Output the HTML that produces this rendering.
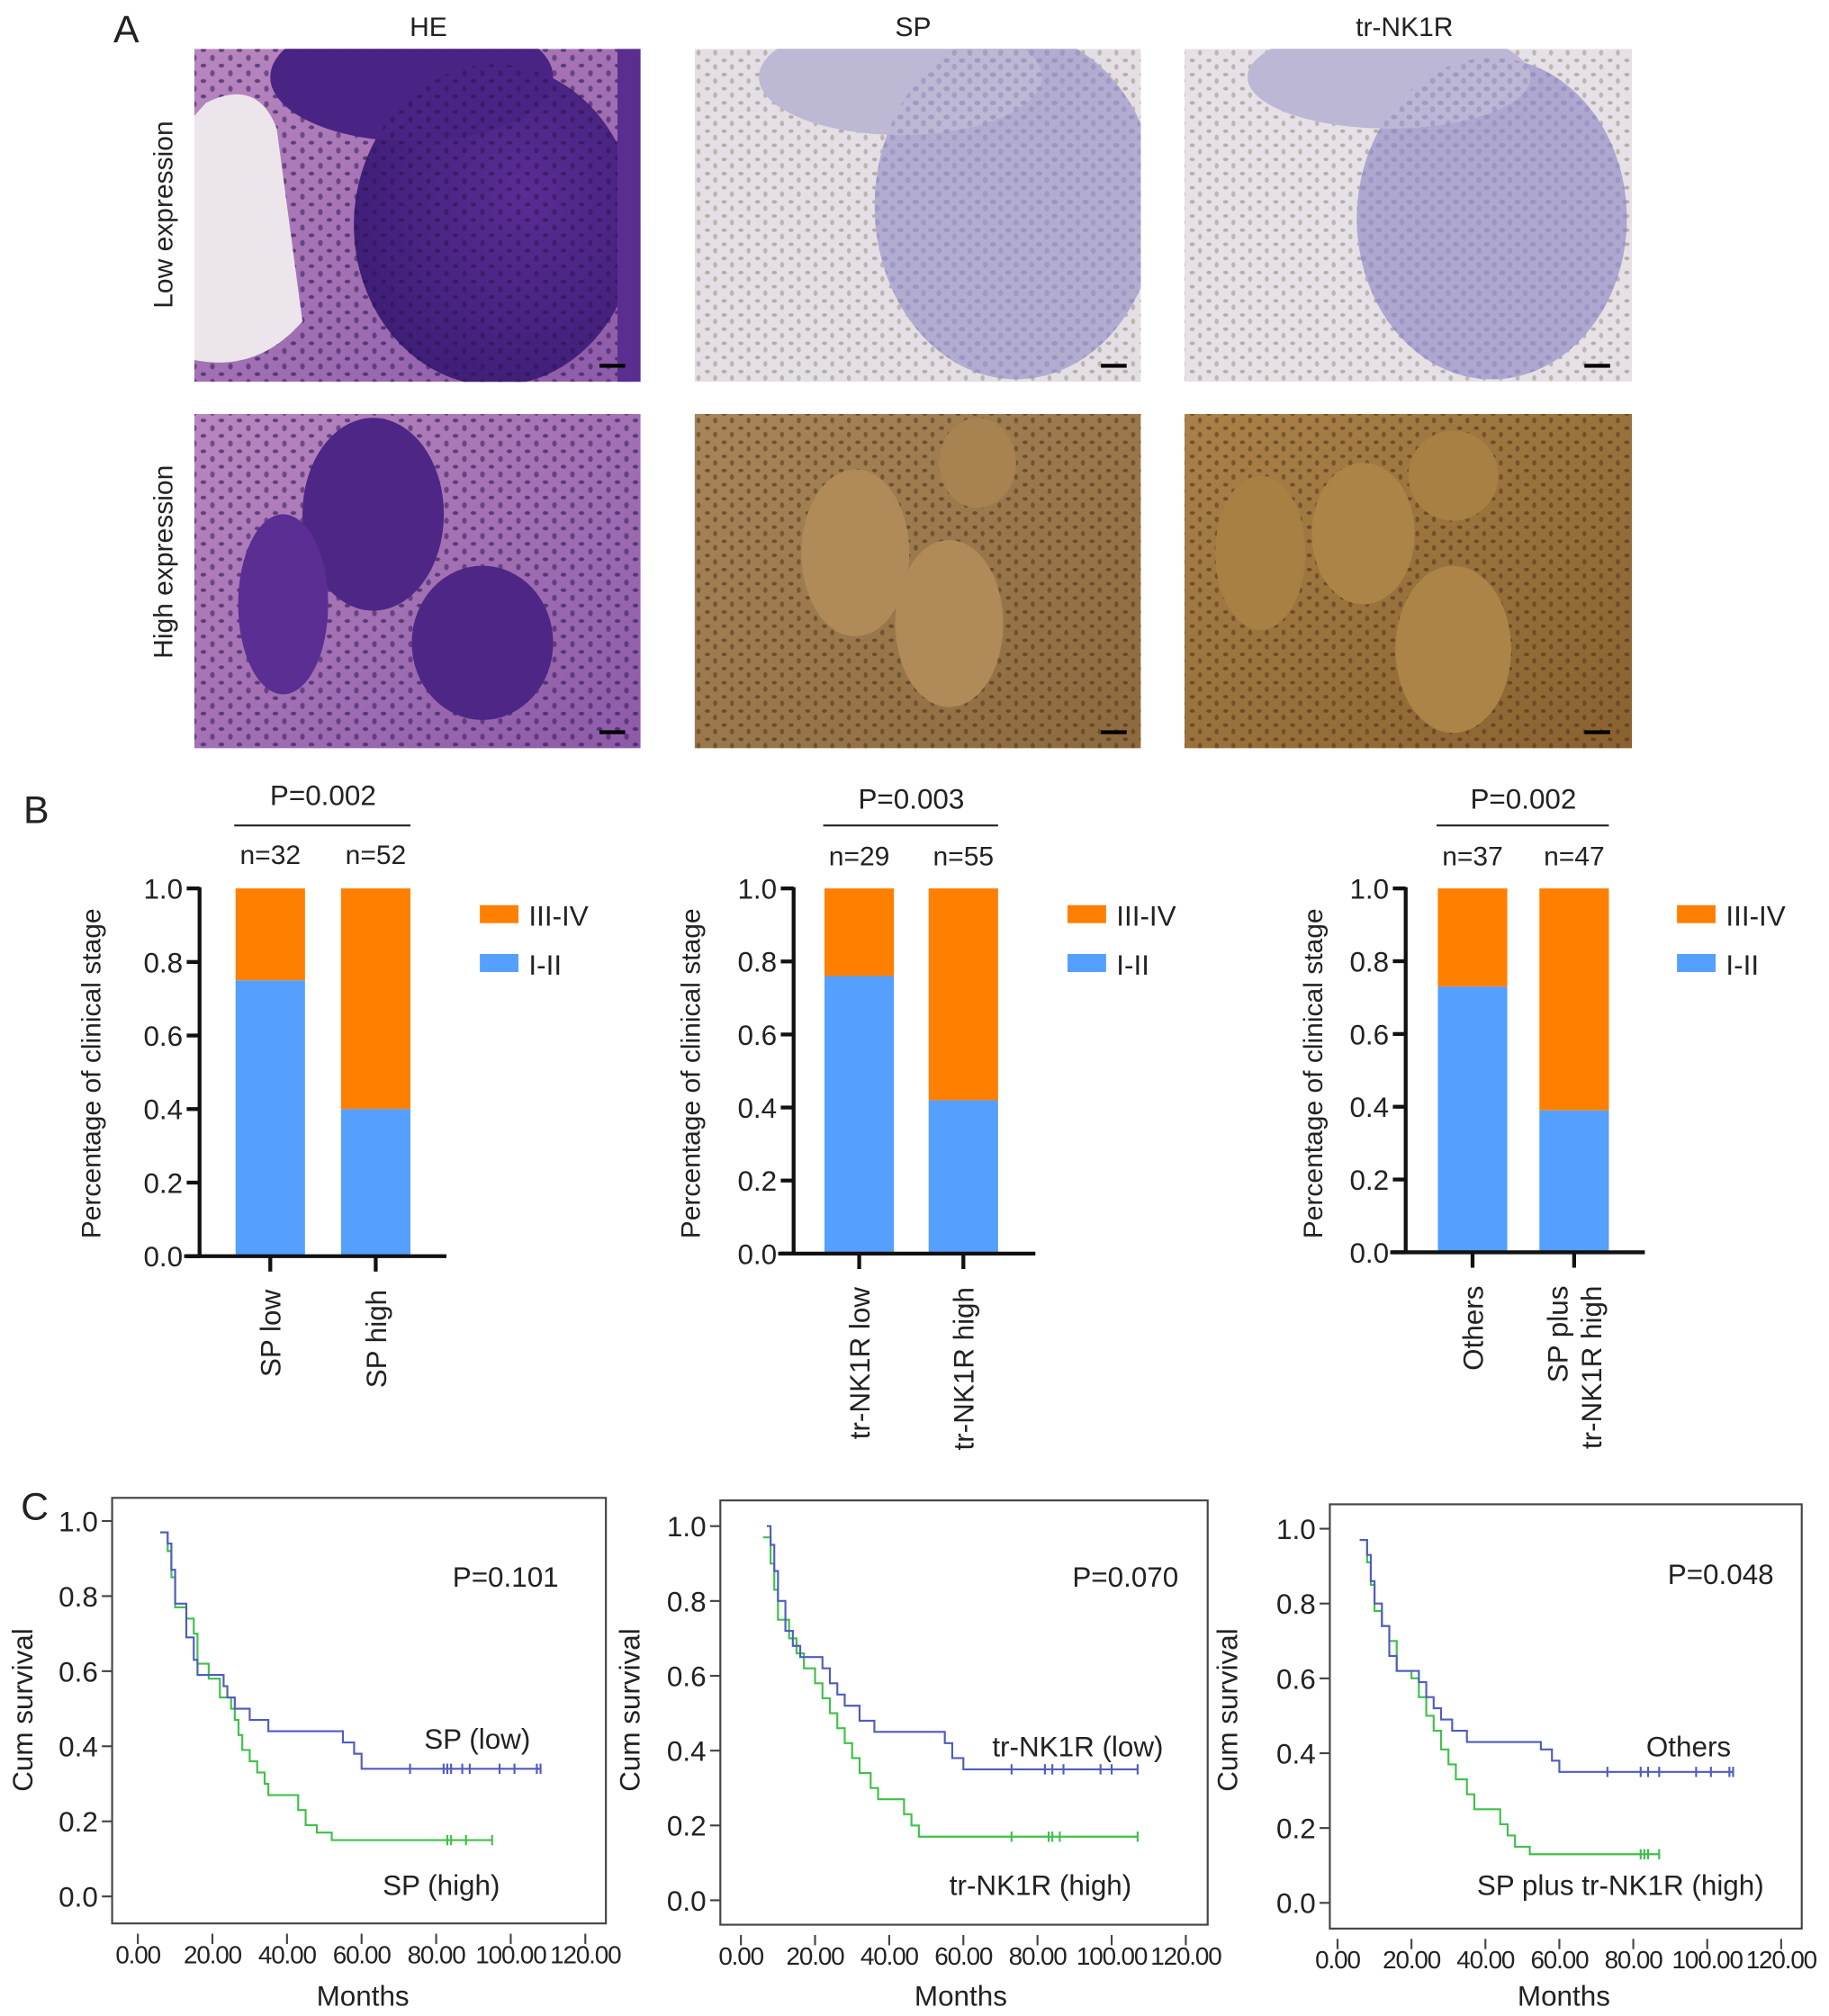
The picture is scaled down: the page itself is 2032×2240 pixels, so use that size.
<!DOCTYPE html>
<html><head><meta charset="utf-8"><style>
html,body{margin:0;padding:0;background:#fff}
svg{display:block}
text{font-family:"Liberation Sans",sans-serif;fill:#222}
</style></head><body>
<svg id="fig" width="2032" height="2240" viewBox="0 0 1422 1568" xmlns="http://www.w3.org/2000/svg">
<defs>
<radialGradient id="heN" cx="0.6" cy="0.4" r="0.7"><stop offset="0" stop-color="#5a2c94"/><stop offset="1" stop-color="#3c1d74"/></radialGradient>
<linearGradient id="heBg" x1="0" y1="0" x2="1" y2="1"><stop offset="0" stop-color="#b987bf"/><stop offset="1" stop-color="#8c5aa8"/></linearGradient>
<linearGradient id="spH" x1="0" y1="0" x2="1" y2="1"><stop offset="0" stop-color="#a8865a"/><stop offset="1" stop-color="#8d6a3e"/></linearGradient>
<linearGradient id="nkH" x1="0" y1="0" x2="1" y2="1"><stop offset="0" stop-color="#a98148"/><stop offset="1" stop-color="#8a6230"/></linearGradient>
<pattern id="nucDark" width="14" height="12" patternUnits="userSpaceOnUse"><ellipse cx="4" cy="3" rx="2.2" ry="1.5" fill="#2a1450" opacity="0.6"/><ellipse cx="11" cy="9" rx="1.8" ry="2.4" fill="#2a1450" opacity="0.5"/></pattern>
<pattern id="nucLav" width="12" height="11" patternUnits="userSpaceOnUse"><ellipse cx="4" cy="3" rx="2.4" ry="1.8" fill="#8c86b8" opacity="0.6"/><ellipse cx="10" cy="8" rx="2" ry="2.4" fill="#8c86b8" opacity="0.5"/></pattern>
<pattern id="nucBrown" width="13" height="11" patternUnits="userSpaceOnUse"><ellipse cx="4" cy="3" rx="2" ry="1.4" fill="#4a3018" opacity="0.6"/><ellipse cx="10" cy="8" rx="1.6" ry="2.2" fill="#4a3018" opacity="0.5"/></pattern>
<clipPath id="c1"><rect x="151" y="38" width="347" height="259"/></clipPath>
<clipPath id="c2"><rect x="540" y="38" width="347" height="259"/></clipPath>
<clipPath id="c3"><rect x="921" y="38" width="348" height="259"/></clipPath>
<clipPath id="c4"><rect x="151" y="322" width="347" height="260"/></clipPath>
<clipPath id="c5"><rect x="540" y="322" width="347" height="260"/></clipPath>
<clipPath id="c6"><rect x="921" y="322" width="348" height="260"/></clipPath>
</defs>
<g id="panelA">
<text x="98" y="33" font-size="30" text-anchor="middle">A</text>
<text x="333" y="28" font-size="21" text-anchor="middle">HE</text>
<text x="710" y="28" font-size="21" text-anchor="middle">SP</text>
<text x="1092" y="28" font-size="21" text-anchor="middle">tr-NK1R</text>
<text transform="translate(134,167) rotate(-90)" font-size="21" text-anchor="middle">Low expression</text>
<text transform="translate(134,437) rotate(-90)" font-size="21" text-anchor="middle">High expression</text>
<g clip-path="url(#c1)">
<rect x="151" y="38" width="347" height="259" fill="url(#heBg)"/>
<rect x="151" y="38" width="347" height="259" fill="url(#nucDark)"/>
<path d="M160 80 Q200 60 215 100 L235 250 Q200 290 151 280 L151 90 Z" fill="#ece6ec"/>
<ellipse cx="385" cy="175" rx="110" ry="125" fill="url(#heN)"/>
<ellipse cx="320" cy="60" rx="110" ry="50" fill="#4a2484"/>
<ellipse cx="385" cy="175" rx="110" ry="125" fill="url(#nucDark)"/>
<rect x="480" y="38" width="18" height="259" fill="#5a2e90"/>
<rect x="466" y="283" width="20" height="3" fill="#000"/>
</g>
<g clip-path="url(#c2)">
<rect x="540" y="38" width="347" height="259" fill="#e4dfe4"/>
<rect x="540" y="38" width="347" height="259" fill="url(#nucBrown)" opacity="0.5"/>
<ellipse cx="790" cy="160" rx="110" ry="135" fill="#b2add0"/>
<ellipse cx="700" cy="60" rx="110" ry="45" fill="#bdb8d4"/>
<ellipse cx="790" cy="160" rx="110" ry="135" fill="url(#nucLav)"/>
<rect x="856" y="283" width="20" height="3" fill="#000"/>
</g>
<g clip-path="url(#c3)">
<rect x="921" y="38" width="348" height="259" fill="#e6e1e6"/>
<rect x="921" y="38" width="348" height="259" fill="url(#nucBrown)" opacity="0.5"/>
<ellipse cx="1160" cy="170" rx="105" ry="125" fill="#aea7d0"/>
<ellipse cx="1080" cy="60" rx="110" ry="40" fill="#bdb7d6"/>
<ellipse cx="1160" cy="170" rx="105" ry="125" fill="url(#nucLav)"/>
<rect x="1232" y="283" width="20" height="3" fill="#000"/>
</g>
<g clip-path="url(#c4)">
<rect x="151" y="322" width="347" height="260" fill="url(#heBg)"/>
<rect x="151" y="322" width="347" height="260" fill="url(#nucDark)"/>
<ellipse cx="290" cy="400" rx="55" ry="75" fill="#4e2686"/>
<ellipse cx="375" cy="500" rx="55" ry="60" fill="#4e2686"/>
<ellipse cx="220" cy="470" rx="35" ry="70" fill="#5a2e92"/>
<rect x="466" y="568" width="20" height="3" fill="#000"/>
</g>
<g clip-path="url(#c5)">
<rect x="540" y="322" width="347" height="260" fill="url(#spH)"/>
<rect x="540" y="322" width="347" height="260" fill="url(#nucBrown)"/>
<ellipse cx="665" cy="430" rx="42" ry="65" fill="#b08a58"/>
<ellipse cx="738" cy="485" rx="42" ry="65" fill="#b08a58"/>
<ellipse cx="760" cy="360" rx="30" ry="35" fill="#a88250"/>
<rect x="856" y="568" width="20" height="3" fill="#000"/>
</g>
<g clip-path="url(#c6)">
<rect x="921" y="322" width="348" height="260" fill="url(#nkH)"/>
<rect x="921" y="322" width="348" height="260" fill="url(#nucBrown)"/>
<ellipse cx="1130" cy="505" rx="45" ry="65" fill="#ad8448"/>
<ellipse cx="1060" cy="415" rx="40" ry="55" fill="#ad8448"/>
<ellipse cx="980" cy="430" rx="35" ry="60" fill="#a88044"/>
<ellipse cx="1130" cy="370" rx="35" ry="35" fill="#a88044"/>
<rect x="1232" y="568" width="20" height="3" fill="#000"/>
</g>
</g>
<text x="18" y="640" font-size="30">B</text>
<text x="16" y="1182" font-size="30">C</text>
<g id="bars"></g>
<g id="km"></g>
</svg>
<script>
// ---- Panel B data ----
const barCats1 = ["SP low", "SP high"];
const barCats2 = ["tr-NK1R low", "tr-NK1R high"];
const barCats3 = ["Others", "SP plus|tr-NK1R high"];
const earlyStage1 = [0.75, 0.40];
const earlyStage2 = [0.76, 0.42];
const earlyStage3 = [0.73, 0.39];
const nLabels1 = ["n=32", "n=52"];
const nLabels2 = ["n=29", "n=55"];
const nLabels3 = ["n=37", "n=47"];
const pLabelsB = ["P=0.002", "P=0.003", "P=0.002"];
const barTicks = [0, 0.2, 0.4, 0.6, 0.8, 1.0];

// ---- Panel C data (step points: [months, survival]) ----
const kmLow1 = [[6,0.97],[8,0.94],[9,0.87],[10,0.78],[13,0.69],[15,0.63],[16,0.59],[23,0.56],[24,0.53],[26,0.50],[30,0.47],[35,0.44],[55,0.41],[58,0.38],[60,0.34],[108,0.34]];
const kmHigh1 = [[6,0.97],[8,0.92],[9,0.85],[10,0.77],[13,0.74],[15,0.70],[16,0.62],[19,0.58],[22,0.53],[25,0.50],[26,0.47],[27,0.43],[28,0.39],[30,0.36],[32,0.33],[34,0.30],[35,0.27],[43,0.23],[45,0.19],[48,0.17],[52,0.15],[95,0.15]];
const kmCens1Low = [73,82,83,84,87,89,97,101,107,108];
const kmCens1High = [83,84,88,95];
const kmLow2 = [[7,1.0],[8,0.95],[9,0.88],[10,0.80],[12,0.72],[14,0.68],[16,0.65],[22,0.62],[24,0.58],[26,0.55],[28,0.52],[32,0.48],[36,0.45],[55,0.42],[57,0.38],[60,0.35],[107,0.35]];
const kmHigh2 = [[6,0.97],[8,0.90],[9,0.83],[10,0.75],[13,0.70],[15,0.66],[17,0.62],[20,0.58],[22,0.54],[24,0.50],[26,0.46],[28,0.42],[30,0.38],[32,0.34],[35,0.30],[37,0.27],[44,0.23],[46,0.20],[48,0.17],[107,0.17]];
const kmCens2Low = [73,82,84,87,97,100,107];
const kmCens2High = [73,83,84,86,107];
const kmLow3 = [[6,0.97],[8,0.93],[9,0.86],[10,0.80],[12,0.74],[14,0.66],[16,0.62],[22,0.59],[24,0.55],[26,0.52],[28,0.49],[31,0.46],[35,0.43],[55,0.41],[58,0.38],[60,0.35],[107,0.35]];
const kmHigh3 = [[6,0.97],[8,0.91],[9,0.85],[10,0.78],[12,0.74],[14,0.70],[16,0.62],[20,0.60],[22,0.55],[24,0.50],[26,0.46],[28,0.41],[30,0.37],[32,0.33],[35,0.29],[37,0.25],[44,0.21],[46,0.18],[48,0.15],[52,0.13],[87,0.13]];
const kmCens3Low = [73,82,84,87,97,101,106,107];
const kmCens3High = [82,83,84,87];
const kmPLabels = ["P=0.101", "P=0.070", "P=0.048"];
const kmLowNames = ["SP (low)", "tr-NK1R (low)", "Others"];
const kmHighNames = ["SP (high)", "tr-NK1R (high)", "SP plus tr-NK1R (high)"];
const kmYTicks = [0, 0.2, 0.4, 0.6, 0.8, 1.0];
const kmXTicks = [0, 20, 40, 60, 80, 100, 120];

const NS = "http://www.w3.org/2000/svg";
function mk(tag, attrs, parent, txt) {
  const e = document.createElementNS(NS, tag);
  for (const k in attrs) e.setAttribute(k, attrs[k]);
  if (txt !== undefined) e.textContent = txt;
  parent.appendChild(e);
  return e;
}

// ---- Bar charts ----
const barLayouts = [
  {ax:155, y1:691, y0:977, bars:[183,265], bw:54, xend:347, leg:373, title:70, ptxt:618, line:642, ntxt:672},
  {ax:617, y1:691, y0:975, bars:[641,722], bw:54, xend:805, leg:830, title:536, ptxt:621, line:642, ntxt:673},
  {ax:1093, y1:691, y0:974, bars:[1118,1197], bw:54, xend:1279, leg:1304, title:1020, ptxt:621, line:642, ntxt:673}
];
const barCats = [barCats1, barCats2, barCats3];
const barVals = [earlyStage1, earlyStage2, earlyStage3];
const nLabs = [nLabels1, nLabels2, nLabels3];
const barRoot = document.getElementById('bars');
barLayouts.forEach((L, ci) => {
  const g = mk('g', {}, barRoot);
  
  
  const y = v => L.y0 - v * (L.y0 - L.y1);
  barVals[ci].forEach((v, i) => {
    const x = L.bars[i];
    const r1 = mk('rect', {x:x, y:y(1), width:L.bw, height:y(v) - y(1), fill:'#ff7f00'}, g);
    
    
    const r2 = mk('rect', {x:x, y:y(v), width:L.bw, height:y(0) - y(v), fill:'#559ffe'}, g);
    
    
    const cx = x + L.bw / 2;
    mk('line', {x1:cx, y1:y(0), x2:cx, y2:y(0) + 12, stroke:'#111', 'stroke-width':3}, g);
    const parts = barCats[ci][i].split('|');
    parts.forEach((p, k) => {
      const off = (k - (parts.length - 1) / 2) * 26;
      const t = mk('text', {transform:`translate(${cx + 8 + off},${y(0) + 26}) rotate(-90)`, 'font-size':22, 'text-anchor':'end'}, g, p);
      
      
    });
    const nt = mk('text', {x:cx, y:L.ntxt, 'font-size':21, 'text-anchor':'middle'}, g, nLabs[ci][i]);
    
    
  });
  mk('line', {x1:L.ax, y1:L.y1 - 1, x2:L.ax, y2:y(0), stroke:'#111', 'stroke-width':3}, g);
  mk('line', {x1:L.ax - 12, y1:y(0), x2:L.xend, y2:y(0), stroke:'#111', 'stroke-width':3}, g);
  barTicks.forEach(v => {
    mk('line', {x1:L.ax - 10, y1:y(v), x2:L.ax, y2:y(v), stroke:'#111', 'stroke-width':3}, g);
    const t = mk('text', {x:L.ax - 13, y:y(v) + 8, 'font-size':22, 'text-anchor':'end'}, g, v.toFixed(1));
    
    
  });
  const yt = mk('text', {transform:`translate(${L.title + 8},835) rotate(-90)`, 'font-size':21, 'text-anchor':'middle'}, g, 'Percentage of clinical stage');
  
  
  const mid = (L.bars[0] + L.bars[1] + L.bw) / 2;
  const pt = mk('text', {x:mid, y:L.ptxt + 8, 'font-size':22, 'text-anchor':'middle'}, g, pLabelsB[ci]);
  
  
  mk('line', {x1:L.bars[0] - 1, y1:L.line, x2:L.bars[1] + L.bw, y2:L.line, stroke:'#222', 'stroke-width':1.5}, g);
  const l1 = mk('rect', {x:L.leg, y:704, width:30, height:14, fill:'#ff7f00'}, g);
  
  
  mk('text', {x:L.leg + 38, y:720, 'font-size':22}, g, 'III-IV');
  const l2 = mk('rect', {x:L.leg, y:742, width:30, height:14, fill:'#559ffe'}, g);
  
  
  mk('text', {x:L.leg + 38, y:758, 'font-size':22}, g, 'I-II');
});

// ---- KM charts ----
const kmLayouts = [
  {fx:87, fy:1165, fw:384, fh:331, y1:1183, y0:1475, x0:107, x120:455, ytitle:25, pX:393, pY:1226, lowX:371, lowY:1352, highX:343, highY:1466, mX:282},
  {fx:560, fy:1167, fw:379, fh:330, y1:1187, y0:1478, x0:576, x120:922, ytitle:497, pX:875, pY:1226, lowX:838, lowY:1358, highX:809, highY:1466, mX:747},
  {fx:1034, fy:1170, fw:367, fh:330, y1:1189, y0:1480, x0:1040, x120:1385, ytitle:962, pX:1338, pY:1224, lowX:1313, lowY:1358, highX:1260, highY:1466, mX:1216}
];
const kmLow = [kmLow1, kmLow2, kmLow3];
const kmHigh = [kmHigh1, kmHigh2, kmHigh3];
const kmCL = [kmCens1Low, kmCens2Low, kmCens3Low];
const kmCH = [kmCens1High, kmCens2High, kmCens3High];
const kmRoot = document.getElementById('km');
kmLayouts.forEach((L, ci) => {
  const g = mk('g', {}, kmRoot);
  
  
  const x = t => L.x0 + t / 120 * (L.x120 - L.x0);
  const y = s => L.y0 - s * (L.y0 - L.y1);
  const fr = mk('rect', {x:L.fx, y:L.fy, width:L.fw, height:L.fh, fill:'none', stroke:'#444', 'stroke-width':1.5}, g);
  
  
  kmYTicks.forEach(v => {
    mk('line', {x1:L.fx - 8, y1:y(v), x2:L.fx, y2:y(v), stroke:'#444', 'stroke-width':1.5}, g);
    const t = mk('text', {x:L.fx - 11, y:y(v) + 8, 'font-size':22, 'text-anchor':'end'}, g, v.toFixed(1));
    
    
  });
  kmXTicks.forEach(v => {
    mk('line', {x1:x(v), y1:L.fy + L.fh + 8, x2:x(v), y2:L.fy + L.fh + 16, stroke:'#444', 'stroke-width':1.5}, g);
    const t = mk('text', {x:x(v), y:L.fy + L.fh + 31, 'font-size':19.5, 'text-anchor':'middle', 'letter-spacing':'-0.8'}, g, v.toFixed(2));
    
    
  });
  const mt = mk('text', {x:L.mX, y:1560, 'font-size':22, 'text-anchor':'middle'}, g, 'Months');
  
  
  const yt = mk('text', {transform:`translate(${L.ytitle},1330) rotate(-90)`, 'font-size':22, 'text-anchor':'middle'}, g, 'Cum survival');
  
  
  function curve(pts, cens, color, name) {
    let d = `M${x(pts[0][0])},${y(pts[0][1])}`;
    for (let i = 1; i < pts.length; i++) {
      d += ` H${x(pts[i][0])} V${y(pts[i][1])}`;
    }
    const p = mk('path', {d:d, fill:'none', stroke:color, 'stroke-width':1.5}, g);
    
    
    const last = pts[pts.length - 1][1];
    cens.forEach(c => {
      const m = mk('line', {x1:x(c), y1:y(last) - 4, x2:x(c), y2:y(last) + 4, stroke:color, 'stroke-width':1.5}, g);
      
      
    });
  }
  curve(kmHigh[ci], kmCH[ci], '#3fc04a', 'high-survival-curve');
  curve(kmLow[ci], kmCL[ci], '#4f5cc0', 'low-survival-curve');
  const pt = mk('text', {x:L.pX, y:L.pY + 8, 'font-size':22, 'text-anchor':'middle'}, g, kmPLabels[ci]);
  
  
  const lt = mk('text', {x:L.lowX, y:L.lowY + 8, 'font-size':22, 'text-anchor':'middle'}, g, kmLowNames[ci]);
  
  
  const ht = mk('text', {x:L.highX, y:L.highY + 8, 'font-size':22, 'text-anchor':'middle'}, g, kmHighNames[ci]);
  
  
});
</script>
</body></html>
